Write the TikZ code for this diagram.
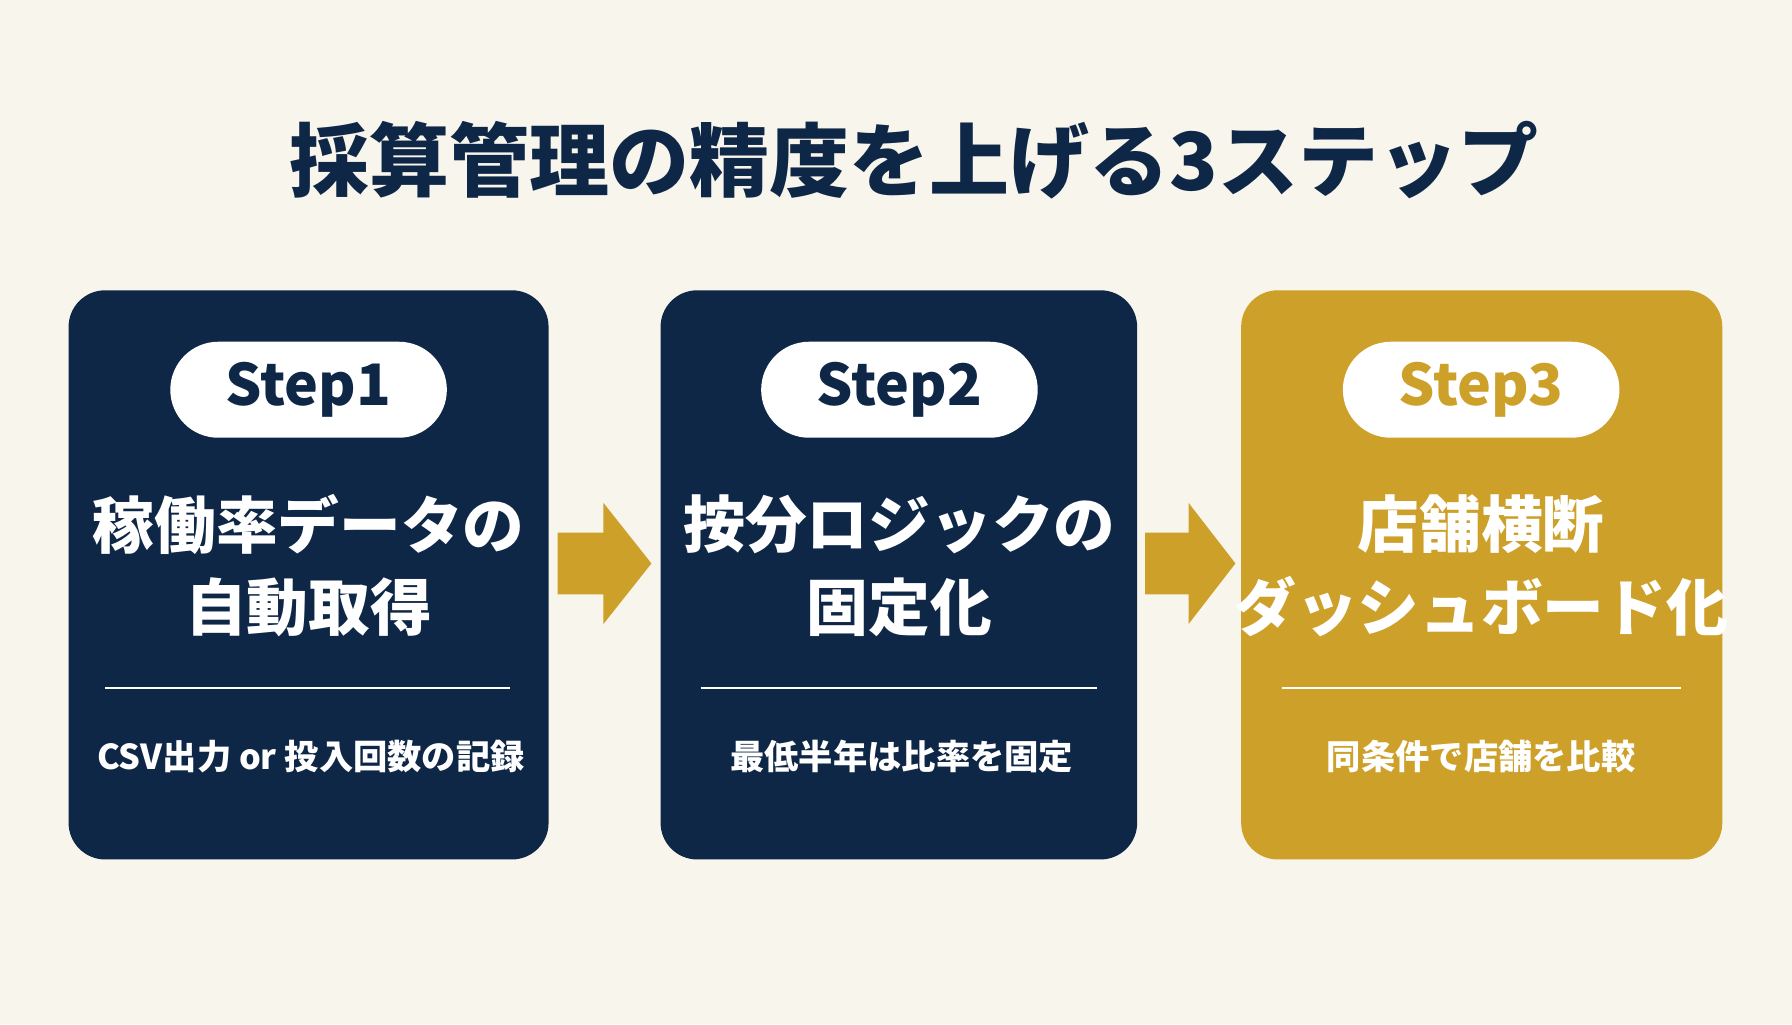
\documentclass[tikz,border=0pt]{standalone}
\usepackage{fontspec}
\setmainfont{Noto Sans CJK JP}
\definecolor{navy}{HTML}{0F2747}
\definecolor{gold}{HTML}{CDA02A}
\definecolor{bg}{HTML}{F8F5EC}
\begin{document}
\begin{tikzpicture}[x=0.5pt,y=-0.5pt,
 card/.style={rounded corners=16pt,draw=none},
 pill/.style={fill=white,rounded corners=21pt,minimum width=121pt,minimum height=42pt,inner sep=0pt,font=\bfseries\fontsize{25}{25}\selectfont},
 main/.style={text=white,font=\bfseries\fontsize{27}{36}\selectfont,align=center},
 sub/.style={text=white,font=\bfseries\fontsize{15}{18}\selectfont},
 sep/.style={white,line width=1pt},
 arr/.style={fill=gold,draw=none}]
\fill[bg] (0,0) rectangle (1568,896);
\useasboundingbox (0,0) rectangle (1568,896);
\node[text=navy,font=\bfseries\fontsize{35}{40}\selectfont] (title) at (800,140) {採算管理の精度を上げる3ステップ};
% cards
\fill[card,navy] (60,254) rectangle (480,752);
\fill[card,navy] (578,254) rectangle (995,752);
\fill[card,gold] (1086,254) rectangle (1507,752);
\node[pill,text=navy] (p1) at (270,341) {Step1};
\node[pill,text=navy] (p2) at (787,341) {Step2};
\node[pill,text=gold] (p3) at (1296,341) {Step3};
\node[main] (m1) at (270,495) {稼働率データの\\自動取得};
\node[main] (m2) at (787,495) {按分ロジックの\\固定化};
\node[main] (m3) at (1296,495) {店舗横断\\ダッシュボード化};
\draw[sep] (92,602) -- (446,602);
\draw[sep] (613,602) -- (960,602);
\draw[sep] (1122,602) -- (1471,602);
\node[sub] (s1) at (272,662) {CSV出力 or 投入回数の記録};
\node[sub] (s2) at (789,662) {最低半年は比率を固定};
\node[sub] (s3) at (1296,662) {同条件で店舗を比較};
% arrows
\fill[arr] (488,466) -- (528,466) -- (528,440) -- (570,493) -- (528,546) -- (528,520) -- (488,520) -- cycle;
\fill[arr] (1002,466) -- (1040,466) -- (1040,440) -- (1081,493) -- (1040,546) -- (1040,520) -- (1002,520) -- cycle;
\end{tikzpicture}
\end{document}
